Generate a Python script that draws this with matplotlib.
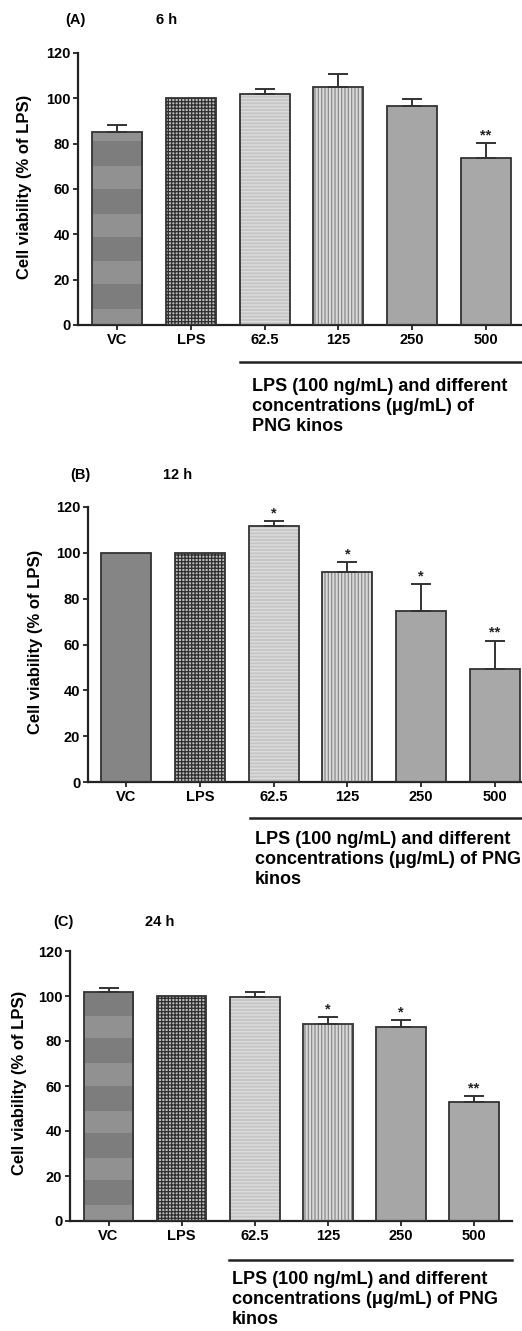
import numpy as np
import matplotlib
matplotlib.use('Agg')
import matplotlib.pyplot as plt
from matplotlib.lines import Line2D

plt.rcParams['font.family'] = ['Liberation Sans', 'DejaVu Sans']
plt.rcParams['font.weight'] = 'bold'
plt.rcParams['hatch.linewidth'] = 0.9

W, H = 522, 1331

categories = ['VC', 'LPS', '62.5', '125', '250', '500']
group_text = ['LPS (100 ng/mL) and different\nconcentrations (\u03bcg/mL) of\nPNG kinos',
              'LPS (100 ng/mL) and different\nconcentrations (\u03bcg/mL) of PNG\nkinos',
              'LPS (100 ng/mL) and different\nconcentrations (\u03bcg/mL) of PNG\nkinos']
panel_tags = ['(A)', '(B)', '(C)']
time_tags = ['6 h', '12 h', '24 h']

means_6h = [85.3, 100, 101.8, 104.8, 96.6, 73.6]
err_6h = [2.9, 0, 2.3, 5.9, 3.0, 6.6]
stars_6h = ['', '', '', '', '', '**']

means_12h = [100, 100, 111.9, 91.6, 74.8, 49.2]
err_12h = [0, 0, 2.0, 4.2, 11.7, 12.5]
stars_12h = ['', '', '*', '*', '*', '**']

means_24h = [102.0, 100, 99.6, 87.4, 86.4, 52.9]
err_24h = [1.7, 0, 2.2, 3.2, 2.8, 2.5]
stars_24h = ['', '', '', '*', '*', '**']

yticks = [0, 20, 40, 60, 80, 100, 120]

# layout in pixels: axis x, right edge, y of 120, y of 0, xlim
layouts = [
    dict(x0=78, x1=522, ytop=53, ybot=325, xlim=(-0.53, 5.49),
         tag=(75, 20), time=(167, 20), ylab=(25, 187),
         line=(240, 522, 362), text=(252, 387)),
    dict(x0=88, x1=522, ytop=507, ybot=782, xlim=(-0.52, 5.37),
         tag=(80, 475), time=(178, 475), ylab=(36, 642),
         line=(250, 522, 818), text=(255, 840)),
    dict(x0=70, x1=512, ytop=951, ybot=1221, xlim=(-0.527, 5.52),
         tag=(63, 922), time=(160, 922), ylab=(20, 1083),
         line=(229, 512, 1260), text=(232, 1280)),
]

fills = ['#858585', '#bcbcbc', '#c6c6c6', '#dadada', '#a6a6a6', '#a8a8a8']
hatches = [None, '+++++', '-----', '|||||', None, None]
hatch_cols = [None, '#2e2e2e', '#dedede', '#8a8a8a', None, None]
edge = '#333333'


def draw_panel(fig, lay, means, errs, stars, tag, time, gtext, banded):
    ax = fig.add_axes([lay['x0'] / W, 1 - lay['ybot'] / H,
                       (lay['x1'] - lay['x0']) / W, (lay['ybot'] - lay['ytop']) / H])
    x = np.arange(len(categories))
    bw = 0.68
    bars = ax.bar(x, means, bw, color=fills, edgecolor='none', zorder=2)
    for i, b in enumerate(bars):
        if hatches[i]:
            ax.bar(x[i], means[i], bw, color='none', edgecolor=hatch_cols[i],
                   hatch=hatches[i], linewidth=0, zorder=3)
    if banded:
        yy = np.arange(0, means[0], 0.25)
        band = np.where((yy % 21 >= 7) & (yy % 21 < 18), 0.49, 0.57)
        img = ax.imshow(band[:, None], extent=(x[0] - bw / 2, x[0] + bw / 2, 0, means[0]),
                        origin='lower', aspect='auto', cmap='gray', vmin=0, vmax=1,
                        interpolation='nearest', zorder=2.5)
        img.set_clip_path(bars[0])
    ax.bar(x, means, bw, color='none', edgecolor=edge, linewidth=1.3, zorder=4)

    e = np.array(errs)
    m = np.array(means)
    keep = e > 0
    ax.errorbar(x[keep], m[keep], yerr=[np.zeros(keep.sum()), e[keep]], fmt='none',
                ecolor=edge, elinewidth=1.4, capsize=7.5, capthick=1.4, zorder=5)
    for i, s in enumerate(stars):
        if s:
            ax.text(x[i], m[i] + e[i] + 0.3, s, ha='center', va='bottom',
                    fontsize=10.5, color='#222222')

    ax.set_xlim(*lay['xlim'])
    ax.set_ylim(0, 120)
    ax.set_yticks(yticks)
    ax.set_xticks(x)
    ax.set_xticklabels(categories)
    ax.tick_params(axis='both', labelsize=10.5, width=1.3, length=3.5, color='#222222',
                   direction='out', pad=2)
    for sp in ['top', 'right']:
        ax.spines[sp].set_visible(False)
    for sp in ['left', 'bottom']:
        ax.spines[sp].set_linewidth(1.6)
        ax.spines[sp].set_color('#222222')

    fig.text(lay['ylab'][0] / W, 1 - lay['ylab'][1] / H, 'Cell viability (% of LPS)',
             rotation=90, ha='center', va='center', fontsize=12)
    fig.text(lay['tag'][0] / W, 1 - lay['tag'][1] / H, tag, ha='center', va='center',
             fontsize=10.5)
    fig.text(lay['time'][0] / W, 1 - lay['time'][1] / H, time, ha='center', va='center',
             fontsize=10.5)
    lx0, lx1, ly = lay['line']
    fig.add_artist(Line2D([lx0 / W, lx1 / W], [1 - ly / H, 1 - ly / H],
                          color='#222222', linewidth=1.8))
    fig.text(lay['text'][0] / W, 1 - (lay['text'][1] - 9) / H, gtext, ha='left', va='top',
             fontsize=13, linespacing=1.22)
    return ax


fig = plt.figure(figsize=(W / 100, H / 100), dpi=100)
data = [(means_6h, err_6h, stars_6h), (means_12h, err_12h, stars_12h),
        (means_24h, err_24h, stars_24h)]
for k in range(3):
    mk, ek, sk = data[k]
    draw_panel(fig, layouts[k], mk, ek, sk, panel_tags[k], time_tags[k], group_text[k],
               banded=(k != 1))

fig.savefig('out.png', dpi=100)
